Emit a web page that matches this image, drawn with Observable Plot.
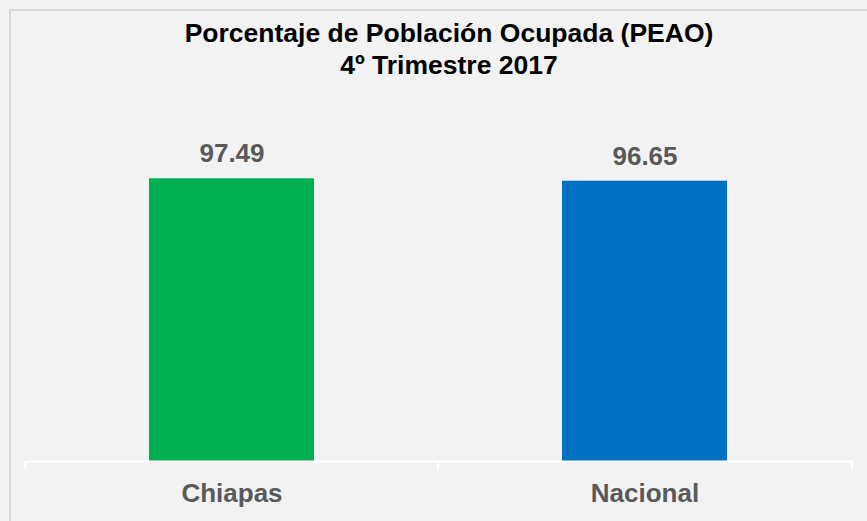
<!DOCTYPE html>
<html>
<head>
<meta charset="utf-8">
<script src="https://cdn.jsdelivr.net/npm/d3@7"></script>
<script src="https://cdn.jsdelivr.net/npm/@observablehq/plot@0.6"></script>
<style>
  html, body { margin: 0; padding: 0; background: #f2f2f2; }
  #chart {
    position: relative; width: 867px; height: 521px; overflow: hidden;
    background: #f2f2f2; font-family: "Liberation Sans", Arial, sans-serif;
  }
  #frame {
    position: absolute; left: 9px; top: 9px; width: 900px; height: 600px;
    border-top: 2px solid #d9d9d9; border-left: 2px solid #d9d9d9;
    pointer-events: none;
  }
  #title {
    position: relative; height: 100px; box-sizing: border-box;
    margin-left: 10px; width: 878px; padding-top: 17px;
    text-align: center; font-weight: bold; font-size: 26.5px; line-height: 32px; color: #000;
  }
  #plot { position: relative; }
</style>
</head>
<body>
<div id="chart">
  <div id="frame"></div>
  <div id="title">Porcentaje de Población Ocupada (PEAO)<br>4º Trimestre 2017</div>
  <div id="plot"></div>
</div>
<script>
const categories = ["Chiapas", "Nacional"];
const values = [97.49, 96.65];
const colors = ["#00b050", "#0070c0"];

const data = categories.map((c, i) => ({cat: c, value: values[i]}));

const W = 867, H = 421, mL = 25, mR = 15;
const step = (W - mL - mR) / categories.length;

const chart = Plot.plot({
  width: W,
  height: H,
  marginLeft: mL,
  marginRight: mR,
  marginTop: 71,
  marginBottom: 60,
  style: {background: "transparent", overflow: "visible", fontFamily: "'Liberation Sans', Arial, sans-serif"},
  x: {domain: categories, paddingInner: 0.6, paddingOuter: 0.3, axis: null},
  y: {domain: [0, 100], axis: null},
  color: {domain: categories, range: colors},
  marks: [
    Plot.barY(data, {x: "cat", y: "value", fill: "cat"}),
    Plot.ruleY([0], {stroke: "white", strokeWidth: 2}),
    Plot.ruleX(categories, {x: d => d, dx: -step / 2, y1: () => 0, y2: () => 0, insetBottom: -8, stroke: "white", strokeWidth: 2}),
    Plot.ruleX([categories[categories.length - 1]], {x: d => d, dx: step / 2, y1: () => 0, y2: () => 0, insetBottom: -8, stroke: "white", strokeWidth: 2}),
    Plot.text(data, {x: "cat", y: "value", text: d => d.value.toFixed(2), dy: -25, fontSize: 26, fontWeight: "bold", fill: "#595959"}),
    Plot.axisX({tickSize: 0, tickPadding: 22, fontSize: 26, fontWeight: "bold", color: "#595959", label: null})
  ]
});
document.getElementById("plot").appendChild(chart);
</script>
</body>
</html>
